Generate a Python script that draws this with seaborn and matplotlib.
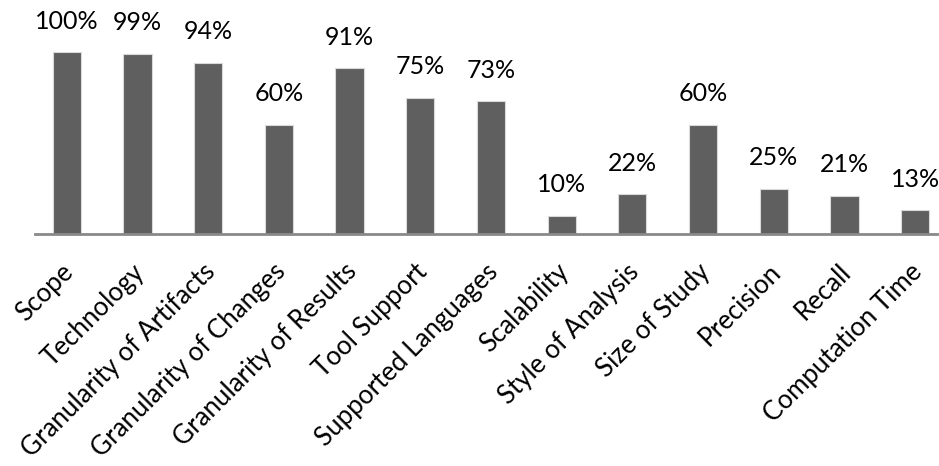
import matplotlib
matplotlib.use("Agg")
import matplotlib.pyplot as plt
import matplotlib.transforms as mtransforms
import seaborn as sns
import pandas as pd

categories = ["Scope", "Technology", "Granularity of Artifacts", "Granularity of Changes",
              "Granularity of Results", "Tool Support", "Supported Languages", "Scalability",
              "Style of Analysis", "Size of Study", "Precision", "Recall", "Computation Time"]
values = [100, 99, 94, 60, 91, 75, 73, 10, 22, 60, 25, 21, 13]
value_labels = ["100%", "99%", "94%", "60%", "91%", "75%", "73%", "10%", "22%", "60%", "25%", "21%", "13%"]

df = pd.DataFrame({"category": categories, "value": values})

sns.set_theme(style="white")
plt.rcParams['font.family'] = ['Lato', 'DejaVu Sans']

fig = plt.figure(figsize=(9.39, 4.66), dpi=100)
ax = fig.add_axes([35/939, 1 - 234/466, (937 - 35)/939, (234 - 52)/466])

sns.barplot(data=df, x="category", y="value", color="#5f5f5f", width=0.4,
            edgecolor="#d9d9d9", linewidth=0.8, saturation=1, ax=ax)

ax.set_ylim(0, 100)
ax.set_xlim(-0.45, len(categories) - 1 + 0.31)
ax.set_xlabel("")
ax.set_ylabel("")
ax.set_yticks([])
for s in ["top", "right", "left"]:
    ax.spines[s].set_visible(False)
ax.spines["bottom"].set_color("#898989")
ax.spines["bottom"].set_linewidth(2)

for i, (v, lab) in enumerate(zip(values, value_labels)):
    ax.annotate(lab, (i, v), xytext=(0, 14), textcoords="offset points",
                ha="center", va="bottom", fontsize=18, color="black", clip_on=False)

ax.tick_params(axis="x", length=0, pad=18)
ax.set_xticks(range(len(categories)))
ax.set_xticklabels(categories, rotation=45, ha="right", rotation_mode="anchor",
                   fontsize=18.6, color="black")
offset = mtransforms.ScaledTranslation(-6/100, 0, fig.dpi_scale_trans)
for t in ax.get_xticklabels():
    t.set_transform(t.get_transform() + offset)

fig.savefig("out.png", dpi=100)
